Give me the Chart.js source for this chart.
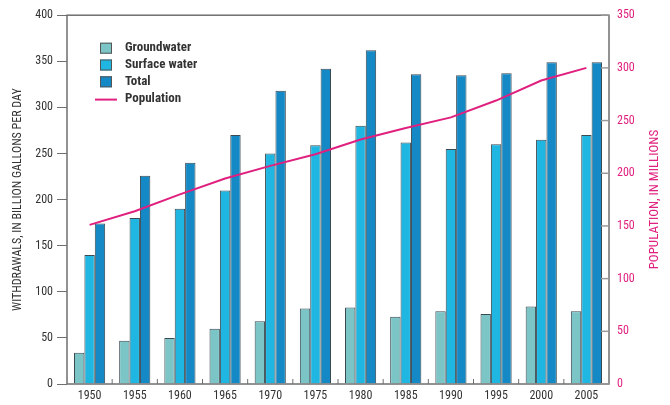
<!DOCTYPE html>
<html>
<head>
<meta charset="utf-8">
<script src="https://cdn.jsdelivr.net/npm/chart.js@4"></script>
<style>
  body { margin: 0; background: #fff; }
  #wrap { width: 670px; height: 405px; }
</style>
</head>
<body>
<div id="wrap"><canvas id="chart" width="670" height="405"></canvas></div>
<script>
const years = [`1950`, `1955`, `1960`, `1965`, `1970`, `1975`, `1980`, `1985`, `1990`, `1995`, `2000`, `2005`];
const groundwater = [34, 47, 50, 60, 68, 82, 83, 73, 79, 76, 84, 79];
const surfaceWater = [140, 180, 190, 210, 250, 259, 280, 262, 255, 260, 265, 270];
const total = [174, 226, 240, 270, 318, 342, 362, 336, 335, 337, 349, 349];
const population = [151, 164, 180, 195, 207, 218, 232, 243, 253, 269, 288, 300];

const FONT = `'Roboto Condensed', 'DejaVu Sans Condensed', sans-serif`;
const AXIS = `#6f6f6f`;
const TEXT = `#333333`;
const PINK = `#e0207f`;

// box, inside ticks, right title and the legend inside the plot
const decorations = {
  id: `decorations`,
  afterDraw(chart) {
    const { ctx, chartArea: a, scales } = chart;
    ctx.save();
    ctx.strokeStyle = AXIS;
    ctx.lineWidth = 1.5;
    ctx.strokeRect(a.left, a.top, a.right - a.left, a.bottom - a.top);

    // x boundary ticks pointing up
    ctx.lineWidth = 1;
    const x = scales.x;
    for (let i = 1; i < years.length; i++) {
      const px = (x.getPixelForValue(i - 1) + x.getPixelForValue(i)) / 2;
      ctx.beginPath();
      ctx.moveTo(px, a.bottom);
      ctx.lineTo(px, a.bottom - 5);
      ctx.stroke();
    }

    // right axis ticks pointing in
    ctx.strokeStyle = `#9a9a9a`;
    ctx.lineWidth = 1.5;
    scales.y1.ticks.forEach((t) => {
      const py = scales.y1.getPixelForValue(t.value);
      ctx.beginPath();
      ctx.moveTo(a.right, py);
      ctx.lineTo(a.right - 8, py);
      ctx.stroke();
    });

    // right title, reading bottom to top
    ctx.fillStyle = PINK;
    ctx.font = `13px ${FONT}`;
    ctx.textAlign = `center`;
    ctx.textBaseline = `middle`;
    ctx.translate(655, (a.top + a.bottom) / 2);
    ctx.rotate(-Math.PI / 2);
    ctx.fillText(`POPULATION, IN MILLIONS`, 0, 0);
    ctx.restore();

    // legend
    ctx.save();
    ctx.font = `bold 13px ${FONT}`;
    ctx.textBaseline = `middle`;
    ctx.textAlign = `left`;
    const lx = a.left + 33;
    const ly = a.top + 33;
    chart.data.datasets.forEach((ds, i) => {
      const cy = ly + i * 16.8;
      if (ds.type === `line`) {
        ctx.strokeStyle = ds.borderColor;
        ctx.lineWidth = 2;
        ctx.beginPath();
        ctx.moveTo(lx - 5, cy + 1);
        ctx.lineTo(lx + 17, cy + 1);
        ctx.stroke();
      } else {
        ctx.fillStyle = ds.backgroundColor;
        ctx.fillRect(lx, cy - 5.5, 12, 11);
        ctx.strokeStyle = `#555`;
        ctx.lineWidth = 1;
        ctx.strokeRect(lx + 0.5, cy - 5, 11, 10);
      }
      ctx.fillStyle = TEXT;
      ctx.fillText(ds.label, lx + 25, cy);
    });
    ctx.restore();
  },
};

const barStyle = { borderColor: `#3b4a52`, borderWidth: 1, order: 1, yAxisID: `y` };

new Chart(document.getElementById(`chart`), {
  type: `bar`,
  data: {
    labels: years,
    datasets: [
      { label: `Groundwater`, data: groundwater, backgroundColor: `#7cc5c7`, ...barStyle },
      { label: `Surface water`, data: surfaceWater, backgroundColor: `#1fb7e2`, ...barStyle },
      { label: `Total`, data: total, backgroundColor: `#1489c6`, ...barStyle },
      {
        type: `line`,
        label: `Population`,
        data: population,
        yAxisID: `y1`,
        borderColor: PINK,
        borderWidth: 2,
        pointRadius: 0,
        tension: 0,
        order: 0,
      },
    ],
  },
  options: {
    responsive: false,
    animation: false,
    devicePixelRatio: 1,
    layout: { padding: { top: 15, left: 0, right: 0, bottom: 0 } },
    datasets: { bar: { categoryPercentage: 0.69, barPercentage: 1 } },
    plugins: { legend: { display: false }, tooltip: { enabled: false } },
    scales: {
      x: {
        grid: { display: false, drawTicks: false },
        border: { display: false },
        ticks: { color: TEXT, font: { family: FONT, size: 12 }, padding: 5, maxRotation: 0 },
        afterFit: (s) => { s.height = 21; },
      },
      y: {
        position: `left`,
        min: 0,
        max: 400,
        ticks: { stepSize: 50, color: TEXT, font: { family: FONT, size: 12 }, padding: 4 },
        grid: { drawOnChartArea: false, tickLength: 10, color: AXIS },
        border: { display: false },
        title: {
          display: true,
          text: `WITHDRAWALS, IN BILLION GALLONS PER DAY`,
          color: TEXT,
          font: { family: FONT, size: 12 },
          padding: { top: 11, bottom: 0 },
        },
        afterFit: (s) => { s.width = 67; },
      },
      y1: {
        position: `right`,
        min: 0,
        max: 350,
        ticks: { stepSize: 50, color: PINK, font: { family: FONT, size: 12 }, padding: 8 },
        grid: { drawOnChartArea: false, drawTicks: false },
        border: { display: false },
        afterFit: (s) => { s.width = 61; },
      },
    },
  },
  plugins: [decorations],
});
</script>
</body>
</html>
